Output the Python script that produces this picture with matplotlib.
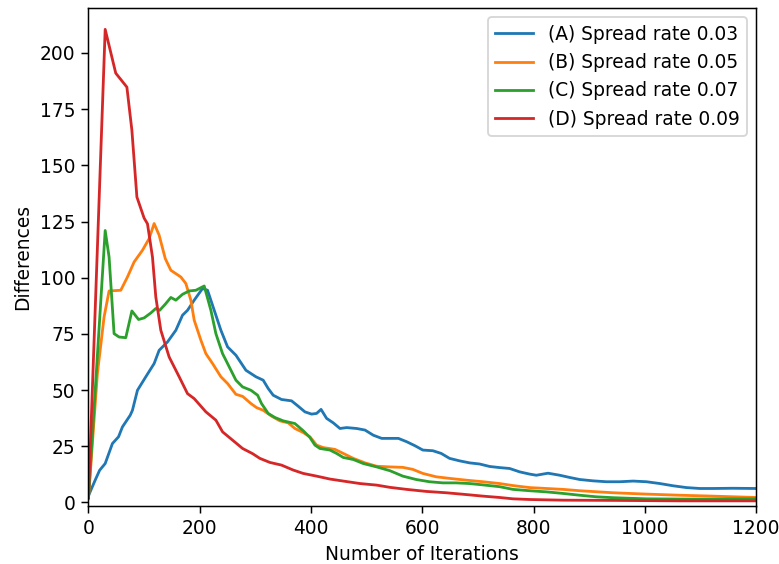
import matplotlib
matplotlib.use("Agg")
import matplotlib.pyplot as plt

# values (iteration, difference)
a_x = [0, 12, 20, 30, 43, 54, 61, 75, 79, 88, 103, 118, 127, 142, 157, 169, 178, 190, 205, 214,
       226, 238, 250, 265, 283, 301, 314, 323, 332, 347, 365, 377, 389, 401, 410, 418, 428, 440,
       452, 464, 482, 497, 512, 527, 557, 572, 587, 601, 619, 634, 649, 667, 685, 703, 721, 739,
       757, 775, 793, 805, 826, 847, 865, 883, 907, 931, 955, 979, 1003, 1027, 1051, 1075, 1099,
       1122, 1158, 1200]
a_y = [3, 9.9, 14.3, 17.3, 26.2, 29.2, 33.6, 38.8, 41, 49.9, 55.9, 61.8, 67.7, 71.4, 76.6, 83.3,
       85.5, 90, 95.2, 94.4, 85.5, 76.6, 69.2, 65.5, 58.8, 55.9, 54.4, 50.7, 47.7, 45.8, 45.2, 42.8,
       40.3, 39.3, 39.6, 41.4, 37.4, 35.4, 32.9, 33.3, 32.9, 32.2, 29.9, 28.5, 28.5, 27, 25.2, 23.3,
       23, 21.8, 19.6, 18.5, 17.6, 17.1, 16, 15.5, 15.1, 13.6, 12.6, 12.1, 13.0, 12.1, 11.1, 10.2,
       9.6, 9.2, 9.2, 9.5, 9.2, 8.4, 7.4, 6.6, 6.2, 6.2, 6.3, 6.2]

b_x = [0, 16, 28, 37, 58, 70, 82, 97, 109, 118, 127, 138, 148, 166, 175, 184, 190, 202, 211, 223,
       238, 250, 265, 277, 292, 302, 314, 329, 344, 359, 371, 386, 398, 410, 422, 443, 458, 476,
       497, 518, 542, 565, 583, 601, 625, 649, 679, 709, 739, 763, 793, 823, 853, 883, 943, 1003,
       1063, 1122, 1200]
b_y = [2, 57.3, 82.5, 94.1, 94.4, 100.3, 107, 112.2, 117.4, 124.1, 118.9, 108.5, 103.3, 100.3, 97.4,
       90, 81.1, 72.2, 66.2, 61.8, 55.9, 52.9, 48.1, 47.2, 44, 42.2, 41, 38.4, 36.3, 35.4, 32.9,
       31.1, 29.2, 25.5, 24.4, 23.6, 21.8, 19.6, 17.6, 16.1, 15.8, 15.6, 14.7, 12.9, 11.4, 10.7,
       9.9, 9.2, 8.4, 7.5, 6.6, 6.2, 5.8, 5.2, 4.3, 3.7, 3.2, 2.8, 2.2]

c_x = [0, 30, 37, 46, 55, 67, 78, 90, 100, 112, 121, 128, 138, 148, 157, 169, 181, 193, 208, 220,
       229, 241, 253, 265, 277, 292, 304, 311, 323, 335, 350, 371, 386, 398, 407, 416, 434, 446,
       458, 476, 494, 518, 542, 565, 589, 613, 637, 661, 685, 709, 739, 763, 793, 823, 853, 883,
       913, 943, 1003, 1063, 1122, 1200]
c_y = [2, 121, 109.2, 75.1, 73.6, 73.3, 85.2, 81.4, 82.1, 84.3, 86.3, 85.5, 88.2, 91.2, 90, 92.6,
       94.1, 94.4, 96.3, 85.5, 75.1, 66.2, 60.3, 54.4, 51.4, 49.9, 47.7, 44, 39.6, 37.8, 36.3, 35.1,
       31.9, 28.9, 25.5, 24, 23.3, 21.8, 20, 19.1, 17.3, 15.8, 14.1, 11.7, 10.2, 9.2, 8.7, 8.7, 8.4,
       7.8, 7.0, 5.8, 5.2, 4.7, 4.0, 3.2, 2.5, 2.1, 1.6, 1.5, 1.5, 1.6]

d_x = [0, 30, 49, 69, 78, 87, 100, 106, 115, 121, 130, 145, 163, 178, 190, 211, 229, 241, 259, 277,
       295, 308, 326, 347, 368, 386, 410, 434, 458, 488, 518, 542, 572, 607, 643, 679, 709, 739,
       763, 793, 853, 943, 1063, 1200]
d_y = [2, 210.5, 191, 184.8, 165.6, 135.9, 126.5, 124, 109.2, 91.4, 76.6, 64.7, 55.9, 48.4, 46.2,
       40.3, 36.6, 31.4, 27.7, 24, 21.7, 19.6, 17.8, 16.6, 14.4, 12.9, 11.7, 10.4, 9.5, 8.4, 7.7,
       6.7, 5.8, 4.9, 4.3, 3.5, 2.8, 2.2, 1.6, 1.3, 1.0, 0.9, 0.7, 0.7]

labels = ["(A) Spread rate 0.03", "(B) Spread rate 0.05",
          "(C) Spread rate 0.07", "(D) Spread rate 0.09"]

# reference looks like a default figure saved at a higher dpi
dpi = 134
fig = plt.figure(figsize=(779 / dpi, 564 / dpi), dpi=dpi)
ax = fig.add_axes([0.1136, 0.1028, 0.857, 0.883])

ax.plot(a_x, a_y, label=labels[0])
ax.plot(b_x, b_y, label=labels[1])
ax.plot(c_x, c_y, label=labels[2])
ax.plot(d_x, d_y, label=labels[3])

ax.set_xlim(0, 1200)
ax.set_ylim(-1.6, 220)
ax.set_xlabel("Number of Iterations")
ax.set_ylabel("Differences")
ax.legend(loc="upper right")

fig.savefig("out.png", dpi=dpi)
